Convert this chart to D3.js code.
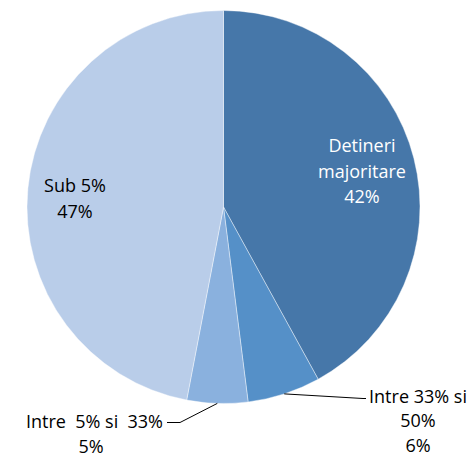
<!DOCTYPE html>
<html>
<head>
<meta charset="utf-8">
<script src="https://d3js.org/d3.v7.min.js"></script>
<style>
  body { margin: 0; padding: 0; background: #fff; }
  text { font-family: "Open Sans", "Liberation Sans", sans-serif; font-size: 18px; }
</style>
</head>
<body>
<div id="chart"></div>
<script>
var categories = ["Detineri majoritare", "Intre 33% si 50%", "Intre  5% si  33%", "Sub 5%"];
var values = [42, 6, 5, 47];
var colors = ["#4677a9", "#5590c8", "#8ab1de", "#b9cde9"];

var w = 473, h = 458,
    cx = 223.5, cy = 207, r = 196.5;

var svg = d3.select("#chart").append("svg")
  .attr("width", w)
  .attr("height", h);

var pie = d3.pie().sort(null).value(function(d) { return d; });
var arc = d3.arc().innerRadius(0).outerRadius(r);
var arcs = pie(values);

var g = svg.append("g").attr("transform", "translate(" + cx + "," + cy + ")");

g.selectAll("path")
  .data(arcs)
  .enter().append("path")
  .attr("d", arc)
  .attr("fill", function(d, i) { return colors[i]; })
  .attr("stroke", "#fff")
  .attr("stroke-width", 0.4);

// labels inside the two big slices
function lines(sel, arr, x, y, fill, step) {
  var t = sel.append("text")
    .attr("text-anchor", "middle")
    .attr("fill", fill)
    .attr("xml:space", "preserve");
  arr.forEach(function(s, k) {
    t.append("tspan").attr("x", x).attr("y", y + k * (step || 25.5)).text(s);
  });
}

lines(svg, ["Detineri", "majoritare", values[0] + "%"], 362, 152, "#fff");
lines(svg, ["Sub 5%", values[3] + "%"], 75, 192, "#000");

// leader lines for small slices
function edgePoint(d, f) {
  var a = d.startAngle + (d.endAngle - d.startAngle) * f;
  return [cx + r * Math.sin(a), cy - r * Math.cos(a)];
}

var p1 = edgePoint(arcs[1], 0.5);
svg.append("path")
  .attr("d", d3.line()([p1, [363, 398.5], [366, 398.5]]))
  .attr("fill", "none").attr("stroke", "#000").attr("stroke-width", 1);
lines(svg, ["Intre 33% si", "50%", values[1] + "%"], 418, 403, "#000", 24.3);

var p2 = edgePoint(arcs[2], 0.5);
svg.append("path")
  .attr("d", d3.line()([p2, [180, 422.5], [167, 422.5]]))
  .attr("fill", "none").attr("stroke", "#000").attr("stroke-width", 1);
svg.append("text")
  .attr("x", 163).attr("y", 428)
  .attr("text-anchor", "end")
  .attr("xml:space", "preserve")
  .text("Intre  5% si  33%");
svg.append("text")
  .attr("x", 91).attr("y", 452.5)
  .attr("text-anchor", "middle")
  .text(values[2] + "%");
</script>
</body>
</html>
